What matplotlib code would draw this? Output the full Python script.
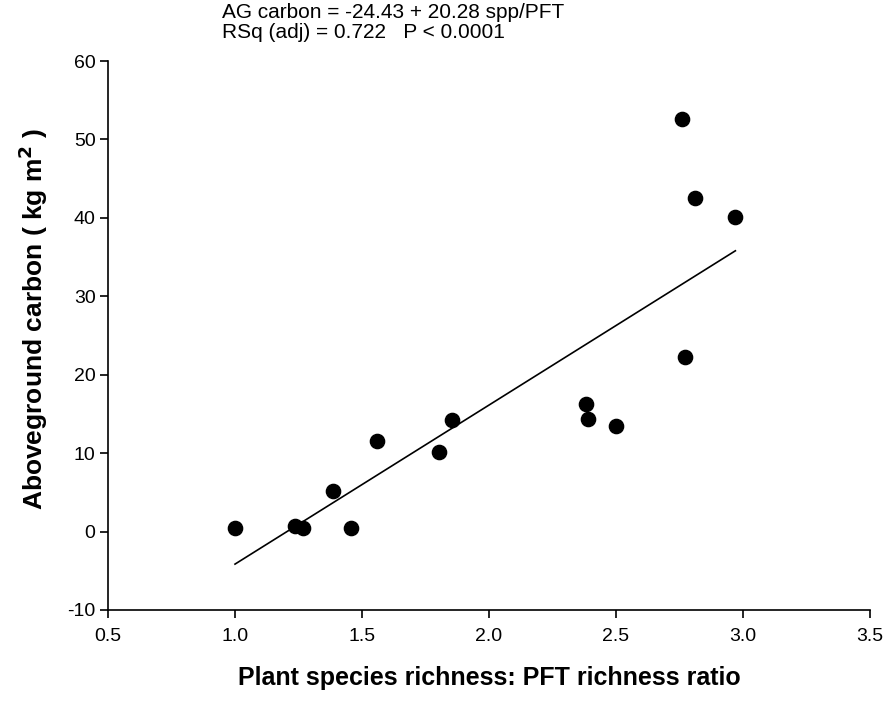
import numpy as np
import matplotlib
matplotlib.use("Agg")
import matplotlib.pyplot as plt

plt.rcParams["font.family"] = ["Liberation Sans", "DejaVu Sans"]
plt.rcParams["axes.unicode_minus"] = False

# data
ratio = [1.00, 1.235, 1.266, 1.385, 1.456, 1.559, 1.804, 1.856, 2.38, 2.39, 2.50, 2.76, 2.77, 2.81, 2.97]
carbon = [0.4, 0.65, 0.4, 5.2, 0.4, 11.5, 10.2, 14.2, 16.3, 14.4, 13.5, 52.6, 22.2, 42.5, 40.1]
intercept, slope = -24.43, 20.28
xticks = [0.5, 1.0, 1.5, 2.0, 2.5, 3.0, 3.5]
yticks = [-10, 0, 10, 20, 30, 40, 50, 60]

fig = plt.figure(figsize=(8.89, 7.05), dpi=100)
ax = fig.add_axes([108 / 889, 1 - 610 / 705, 762 / 889, 549 / 705])

ax.scatter(ratio, carbon, s=105, color="black", zorder=3)
xl = np.array([min(ratio), max(ratio)])
ax.plot(xl, intercept + slope * xl, color="black", lw=1.2)

ax.set_xlim(0.5, 3.5)
ax.set_ylim(-10, 60)
ax.set_xticks(xticks)
ax.set_xticklabels([f"{t:.1f}" for t in xticks])
ax.set_yticks(yticks)
for s in ["top", "right"]:
    ax.spines[s].set_visible(False)
for s in ["left", "bottom"]:
    ax.spines[s].set_linewidth(1.2)
ax.tick_params(direction="out", length=6, width=1.2, labelsize=14)
ax.tick_params(axis="y", pad=3)
ax.tick_params(axis="x", pad=7)

ax.set_xlabel("Plant species richness: PFT richness ratio", fontsize=18,
              fontweight="bold", labelpad=15)
ax.set_ylabel("Aboveground carbon ( kg m$^\\mathbf{2}$ )", fontsize=19,
              fontweight="bold")
ax.yaxis.set_label_coords(-0.076, 0.53)

fig.text(222 / 889, 1 - 13 / 705, "AG carbon = -24.43 + 20.28 spp/PFT",
         fontsize=15, va="center", ha="left")
fig.text(222 / 889, 1 - 32 / 705, "RSq (adj) = 0.722   P < 0.0001",
         fontsize=15, va="center", ha="left")

fig.savefig("out.png", dpi=100)
